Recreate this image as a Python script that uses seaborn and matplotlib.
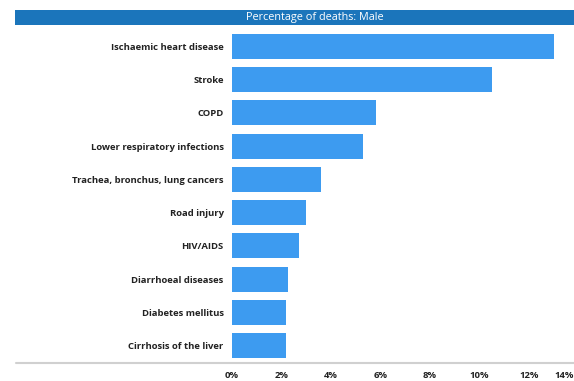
import matplotlib
matplotlib.use("Agg")
import matplotlib.pyplot as plt
import matplotlib.transforms as mtransforms
import seaborn as sns
import pandas as pd
from matplotlib.patches import Rectangle
from matplotlib.lines import Line2D

causes = [
    "Ischaemic heart disease",
    "Stroke",
    "COPD",
    "Lower respiratory infections",
    "Trachea, bronchus, lung cancers",
    "Road injury",
    "HIV/AIDS",
    "Diarrhoeal diseases",
    "Diabetes mellitus",
    "Cirrhosis of the liver",
]
share_pct = [13.0, 10.5, 5.8, 5.3, 3.6, 3.0, 2.7, 2.25, 2.2, 2.2]
tick_values = [0, 2, 4, 6, 8, 10, 12, 14]
tick_labels = ["0%", "2%", "4%", "6%", "8%", "10%", "12%", "14%"]
title = "Percentage of deaths: Male"

df = pd.DataFrame({"cause": causes, "share": share_pct})

sns.set_theme(style="white")
plt.rcParams["font.family"] = ["Open Sans", "DejaVu Sans"]

W, H = 574, 381
fig = plt.figure(figsize=(W / 100, H / 100), dpi=100)

x0_px, x1_px = 232, 574
y_top_px, y_bot_px = 27, 363
ax = fig.add_axes([x0_px / W, 1 - y_bot_px / H, (x1_px - x0_px) / W, (y_bot_px - y_top_px) / H])

sns.barplot(data=df, x="share", y="cause", color="#3d9bf0", saturation=1,
            width=0.75, ax=ax, orient="h", linewidth=0)

px_per_unit = 24.75
ax.set_xlim(0, (x1_px - x0_px) / px_per_unit)
ax.set_ylim(9.51, -0.57)
ax.set_xlabel("")
ax.set_ylabel("")
for s in ax.spines.values():
    s.set_visible(False)

ax.set_xticks(tick_values[:-1])
ax.set_xticklabels(tick_labels[:-1])
ax.tick_params(axis="x", length=0, pad=6, labelsize=6.8)
ax.tick_params(axis="y", length=0, pad=6, labelsize=6.8)
for lab in ax.get_xticklabels() + ax.get_yticklabels():
    lab.set_fontweight("bold")
    lab.set_color("#222222")

# last tick label sits at the right edge of the figure
offset = mtransforms.ScaledTranslation(0, -6 / 72, fig.dpi_scale_trans)
ax.text(1.0, 0.0, tick_labels[-1], transform=ax.transAxes + offset, ha="right", va="top",
        fontsize=6.8, fontweight="bold", color="#222222")

# baseline running under the labels
fig.add_artist(Line2D([16 / W, 1.0], [1 - y_bot_px / H] * 2, transform=fig.transFigure,
                      color="#d0d0d0", lw=1.5))

# title band
fig.add_artist(Rectangle((15 / W, 1 - 25 / H), 1 - 15 / W, 15 / H, transform=fig.transFigure,
                         facecolor="#1b75bb", edgecolor="none"))
fig.text(315 / W, 1 - 17.5 / H, title, ha="center", va="center", color="white", fontsize=7.8)

fig.savefig("out.png", dpi=100)
